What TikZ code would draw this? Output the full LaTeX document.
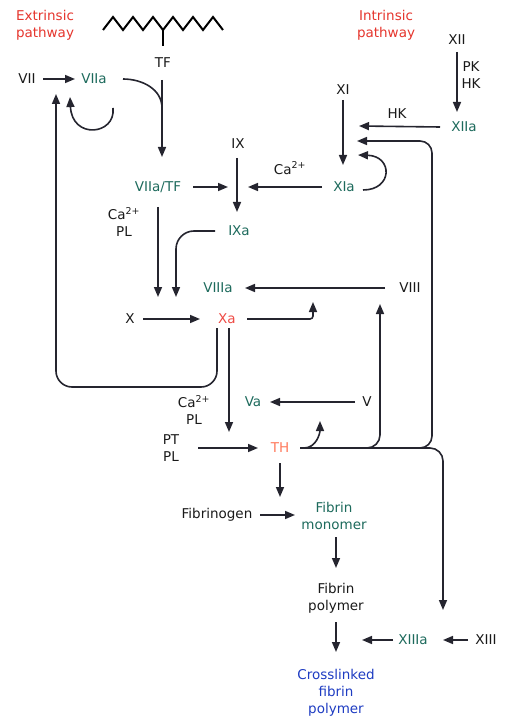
\documentclass[tikz,border=0pt]{standalone}
\usepackage{fontspec}
\setmainfont{DejaVu Sans}
\usetikzlibrary{arrows.meta}

\definecolor{linegray}{HTML}{25252F}
\definecolor{factgreen}{HTML}{1D6A5C}
\definecolor{pathred}{HTML}{E5352D}
\definecolor{xared}{HTML}{EE4A44}
\definecolor{thorange}{HTML}{FF7A5C}
\definecolor{clotblue}{HTML}{1E3CC2}

\begin{document}
\begin{tikzpicture}[
        x=1pt, y=-1pt,
        line/.style={draw=linegray, line width=1.6pt},
        conv/.style={line, -{Triangle[length=10pt,width=8pt]}},
        factor/.style={font=\fontsize{13.5}{17}\selectfont, inner sep=1pt, align=center, text=black!90},
        activated/.style={factor, text=factgreen},
        pathway/.style={factor, text=pathred},
        membrane/.style={line width=2pt, line join=miter}
    ]
        \useasboundingbox (0,0) rectangle (509,719);

        % Pathway titles and tissue factor on the membrane
        \node[pathway] (extr) at (45,25) {Extrinsic\\pathway};
        \node[pathway] (intr) at (386,25) {Intrinsic\\pathway};
        \draw[membrane] (103,30) \foreach \i in {1,3,...,11} { -- ({103+10*\i},17) -- ({113+10*\i},30) };
        \draw[membrane] (163,30) -- (163,46);

        % Factors, extrinsic side
        \node[factor] (tf) at (163,63) {TF};
        \node[factor] (vii) at (27,79) {VII};
        \node[activated] (viia) at (94,79) {VIIa};
        \node[activated] (viiatf) at (158,187) {VIIa/TF};
        \node[factor] (capl1) at (124,222) {Ca\textsuperscript{2+}\\PL};
        \node[factor] (ix) at (238,144) {IX};
        \node[activated] (ixa) at (239,231) {IXa};
        \node[activated] (viiia) at (218,288) {VIIIa};
        \node[factor] (viii) at (410,288) {VIII};
        \node[factor] (x) at (130,319) {X};
        \node[factor, text=xared] (xa) at (227,319) {Xa};
        \node[factor] (capl2) at (194,410) {Ca\textsuperscript{2+}\\PL};
        \node[activated] (va) at (253,402) {Va};
        \node[factor] (v) at (367,402) {V};
        \node[factor] (ptpl) at (171,448) {PT\\PL};
        \node[factor, text=thorange] (th) at (280,448) {TH};

        % Factors, intrinsic side
        \node[factor] (xi) at (343,90) {XI};
        \node[activated] (xia) at (344,187) {XIa};
        \node[factor] (ca3) at (290,168) {Ca\textsuperscript{2+}};
        \node[factor] (xii) at (457,40) {XII};
        \node[factor] (pkhk) at (471,75) {PK\\HK};
        \node[activated] (xiia) at (464,127) {XIIa};
        \node[factor] (hk) at (397,114) {HK};

        % Fibrin formation
        \node[factor] (fibgen) at (217,515) {Fibrinogen};
        \node[activated] (fibmono) at (334,516) {Fibrin\\monomer};
        \node[factor] (fibpoly) at (336,598) {Fibrin\\polymer};
        \node[factor, text=clotblue] (xlink) at (336,693) {Crosslinked\\fibrin\\polymer};
        \node[activated] (xiiia) at (413,640) {XIIIa};
        \node[factor] (xiii) at (486,640) {XIII};

        % Free ends of connectors
        \coordinate (tfjoin) at (162,108);
        \coordinate (selfst) at (113,108);
        \coordinate (selftip) at (70,97);
        \coordinate (ixturn) at (176,297);
        \coordinate (viiiup) at (313,302);
        \coordinate (loopcorner) at (56,387);
        \coordinate (viiatip) at (56,94);
        \coordinate (thtip) at (229,432);
        \coordinate (vaup) at (320,421);
        \coordinate (viiitip) at (380,304);
        \coordinate (xitop) at (432,141);
        \coordinate (xitip) at (357,141);
        \coordinate (xiiitip) at (443,610);
        \coordinate (xiatip) at (358,155);
        \coordinate (hktip) at (359,126);

        % Extrinsic connectors
        \draw[conv, shorten <=16pt, shorten >=19pt] (vii.center) -- (viia.center);
        \draw[conv, shorten <=17pt, shorten >=30pt] (tf.center -| tfjoin) -- (viiatf.center -| tfjoin);
        \draw[line] ([xshift=29pt]viia.center) to[out=0,in=90] (tfjoin);
        \draw[conv] (selfst) .. controls (116,135) and (72,140) .. (selftip);
        \draw[conv, shorten <=35pt, shorten >=10pt] (viiatf.center) -- (viiatf.center -| ix.center);
        \draw[conv, shorten <=22pt, shorten >=10pt] (xia.center) -- (xia.center -| ix.center);
        \draw[conv, shorten <=14pt, shorten >=19pt] (ix.center -| 237,0) -- (ixa.center -| 237,0);
        \draw[conv, shorten <=20pt, shorten >=22pt] (viiatf.center) -- (viiatf.center |- xa.center);
        \draw[conv, rounded corners=18pt] ([xshift=-24pt]ixa.center) -| (ixturn);

        % Xa, VIIIa and Va
        \draw[conv, shorten <=25pt, shorten >=27pt] (viii.center) -- (viiia.center);
        \draw[conv, shorten <=13pt, shorten >=27pt] (x.center) -- (xa.center);
        \draw[conv, rounded corners=3pt] ([xshift=20pt]xa.center) -| (viiiup);
        \draw[conv, rounded corners=16pt] ([shift={(-10,9)}]xa.center) |- (loopcorner) -- (viiatip);
        \draw[conv, shorten <=9pt] (xa.center -| thtip) -- (thtip);
        \draw[conv, shorten <=12pt, shorten >=17pt] (v.center) -- (va.center);
        \draw[conv, shorten <=27pt, shorten >=22pt] (ptpl.center) -- (th.center);

        % Thrombin feedback
        \draw[conv] ([xshift=24pt]th.center) to[out=0,in=-90] (vaup);
        \draw[conv, rounded corners=13pt] ([xshift=20pt]th.center) -| (viiitip);
        \draw[conv, rounded corners=12pt] ([xshift=20pt]th.center) -| (xitop) -- (xitip);
        \draw[conv, rounded corners=13pt] ([xshift=20pt]th.center) -| (xiiitip);

        % Intrinsic connectors
        \draw[conv, shorten <=10pt, shorten >=22pt] (xi.center) -- (xi.center |- xia.center);
        \draw[conv] ([shift={(19,3)}]xia.center) .. controls (393,190) and (393,156) .. (xiatip);
        \draw[conv, shorten <=12pt, shorten >=15pt] (xii.center) -- (xii.center |- xiia.center);
        \draw[conv] ([xshift=-24pt]xiia.center) -- (hktip);

        % Fibrin connectors
        \draw[conv, shorten <=15pt, shorten >=18pt] (th.center) -- (th.center |- fibgen.center);
        \draw[conv, shorten <=43pt, shorten >=39pt] (fibgen.center) -- (fibgen.center -| fibmono.center);
        \draw[conv, shorten <=21pt, shorten >=30pt] (fibmono.center -| fibpoly.center) -- (fibpoly.center);
        \draw[conv, shorten <=24pt, shorten >=41pt] (fibpoly.center) -- (xlink.center);
        \draw[conv, shorten <=18pt, shorten >=30pt] (xiii.center) -- (xiiia.center);
        \draw[conv, shorten <=20pt, shorten >=26pt] (xiiia.center) -- (xiiia.center -| xlink.center);

    \end{tikzpicture}
\end{document}
